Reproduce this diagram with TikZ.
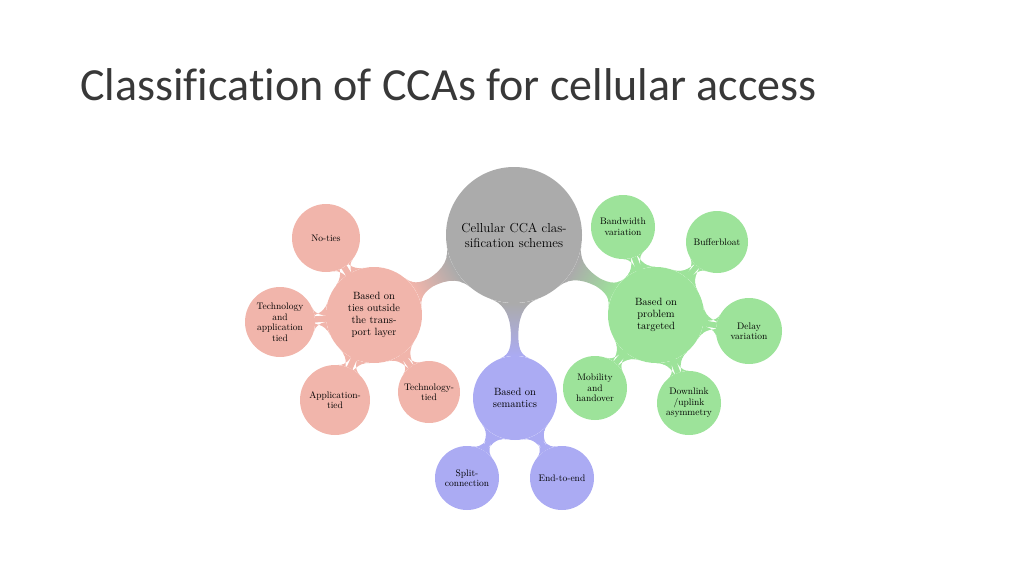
\documentclass[tikz,border=0pt]{standalone}
\usepackage{fontspec}
\newfontfamily\titlefont[Ligatures=NoCommon]{Carlito}
\usetikzlibrary{mindmap,backgrounds}
\definecolor{cred}{HTML}{F1B5AB}
\definecolor{cgray}{HTML}{ABABAB}
\definecolor{cblue}{HTML}{ABABF3}
\definecolor{cgreen}{HTML}{9DE39A}
\begin{document}
\begin{tikzpicture}[x=1pt,y=-1pt,
  bub/.style={circle,inner sep=0pt,align=center,font=\fontsize{9.5}{10.5}\selectfont},
  leaf/.style={bub,minimum size=#1*2pt},
  bar/.style={circle connection bar switch color=from (#1) to (#1)}]
\useasboundingbox (0,0) rectangle (1024,576);
\node[anchor=base west,inner sep=0pt,font=\titlefont\fontsize{46}{48}\selectfont,text=black!78] (title) at (80,100) {Classification of CCAs for cellular access};
\node[leaf=68,fill=cgray,font=\fontsize{13}{15}\selectfont] (c) at (514,235) {Cellular CCA clas-\\sification schemes};
\node[leaf=48,fill=cred,font=\fontsize{10.5}{12}\selectfont] (r) at (374,315) {Based on\\ties outside\\the trans-\\port layer};
\node[leaf=34,fill=cred] (r1) at (326,238) {No-ties};
\node[leaf=35,fill=cred] (r2) at (280,322) {Technology\\and\\application\\tied};
\node[leaf=35,fill=cred] (r3) at (335,400) {Application-\\tied};
\node[leaf=31,fill=cred] (r4) at (429,392) {Technology-\\tied};
\node[leaf=42,fill=cblue,font=\fontsize{10.5}{12}\selectfont] (b) at (515,398) {Based on\\semantics};
\node[leaf=32,fill=cblue] (b1) at (467,478) {Split-\\connection};
\node[leaf=32,fill=cblue] (b2) at (562,478) {End-to-end};
\node[leaf=48,fill=cgreen,font=\fontsize{10.5}{12}\selectfont] (g) at (656,315) {Based on\\problem\\targeted};
\node[leaf=32,fill=cgreen] (g1) at (623,227) {Bandwidth\\variation};
\node[leaf=31,fill=cgreen] (g2) at (717,242) {Bufferbloat};
\node[leaf=33,fill=cgreen] (g3) at (749,331) {Delay\\variation};
\node[leaf=32,fill=cgreen] (g4) at (689,403) {Downlink\\/uplink\\asymmetry};
\node[leaf=32,fill=cgreen] (g5) at (595,388) {Mobility\\and\\handover};
\begin{pgfonlayer}{background}
\path (c) to[circle connection bar switch color=from (cgray) to (cred)] (r);
\path (c) to[circle connection bar switch color=from (cgray) to (cblue)] (b);
\path (c) to[circle connection bar switch color=from (cgray) to (cgreen)] (g);
\foreach \n in {r1,r2,r3,r4} \path (r) to[bar=cred] (\n);
\foreach \n in {b1,b2} \path (b) to[bar=cblue] (\n);
\foreach \n in {g1,g2,g3,g4,g5} \path (g) to[bar=cgreen] (\n);
\end{pgfonlayer}
\end{tikzpicture}
\end{document}
